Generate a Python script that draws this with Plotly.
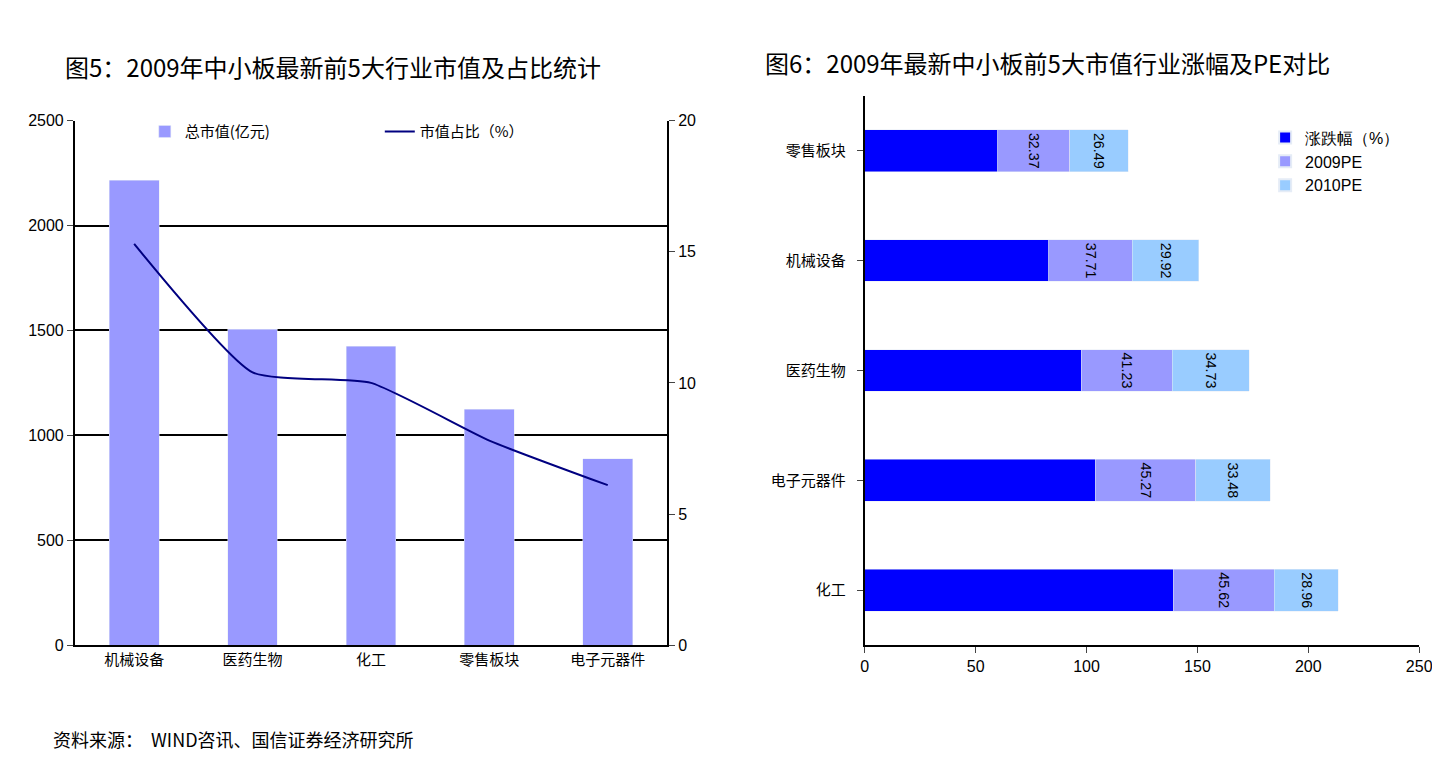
import plotly.graph_objects as go

# left chart
industries_left = ["机械设备", "医药生物", "化工", "零售板块", "电子元器件"]
market_cap = [2215, 1505, 1425, 1125, 888]
cap_share = [15.3, 10.4, 10.0, 7.8, 6.1]

# right chart
industries_right = ["化工", "电子元器件", "医药生物", "机械设备", "零售板块"]
change_pct = [139, 104, 97.5, 83, 60]
pe_2009 = [45.62, 45.27, 41.23, 37.71, 32.37]
pe_2010 = [28.96, 33.48, 34.73, 29.92, 26.49]

CJK = "Noto Sans CJK SC"
NUM = "Liberation Sans"

fig = go.Figure()

fig.add_trace(go.Bar(x=industries_left, y=market_cap, name="总市值(亿元)",
                     marker_color="#9999FF", width=0.42, xaxis="x", yaxis="y",
                     legend="legend", legendrank=1))
fig.add_trace(go.Scatter(x=industries_left, y=cap_share, name="市值占比（%）",
                         mode="lines",
                         line=dict(color="#000080", width=2, shape="spline", smoothing=0.5),
                         xaxis="x", yaxis="y2", legend="legend", legendrank=2))

for vals, name, col, show_text in [(change_pct, "涨跌幅（%）", "#0000FF", False),
                                   (pe_2009, "2009PE", "#9999FF", True),
                                   (pe_2010, "2010PE", "#99CCFF", True)]:
    fig.add_trace(go.Bar(y=industries_right, x=vals, name=name, orientation="h",
                         marker_color=col, width=0.38, xaxis="x3", yaxis="y3",
                         legend="legend2",
                         text=[f"{v:.2f}" for v in vals] if show_text else None,
                         textposition="inside", insidetextanchor="middle",
                         textangle=90, textfont=dict(family=NUM, size=18, color="black")))

fig.update_layout(
    width=1440, height=777, margin=dict(l=0, r=0, t=0, b=0),
    plot_bgcolor="white", paper_bgcolor="white", barmode="stack", bargap=0.5,
    font=dict(family=CJK, size=15, color="black"),
    xaxis=dict(domain=[0.0465, 0.4576], anchor="y", showline=True, linecolor="black",
               linewidth=2, ticks="", automargin=False,
               tickfont=dict(family=CJK, size=15)),
    yaxis=dict(domain=[0.18, 0.855], range=[0, 2500], dtick=500, showgrid=True,
               gridcolor="black", gridwidth=1.5, showline=True, linecolor="black",
               linewidth=2, ticks="outside", ticklen=6, automargin=False,
               tickfont=dict(family=NUM, size=16), zeroline=False),
    yaxis2=dict(overlaying="y", side="right", anchor="x", range=[0, 20], dtick=5,
                showgrid=False, showline=True, linecolor="black", linewidth=2,
                ticks="outside", ticklen=6, automargin=False,
                tickfont=dict(family=NUM, size=16), zeroline=False),
    xaxis3=dict(domain=[0.595, 0.98], anchor="y3", range=[0, 250], dtick=50,
                showgrid=False, showline=True, linecolor="black", linewidth=2,
                ticks="outside", ticklen=6, automargin=False,
                tickfont=dict(family=NUM, size=16), zeroline=False),
    yaxis3=dict(domain=[0.18, 0.887], anchor="x3", showline=True, linecolor="black",
                linewidth=2, ticks="outside", ticklen=6, ticklabelstandoff=8,
                automargin=False, tickfont=dict(family=CJK, size=15)),
    legend=dict(orientation="h", x=0.095, y=0.862, xanchor="left", yanchor="top",
                bgcolor="rgba(0,0,0,0)", font=dict(family=CJK, size=15),
                entrywidth=190, traceorder="normal"),
    legend2=dict(x=0.873, y=0.855, xanchor="left", yanchor="top",
                 bgcolor="rgba(0,0,0,0)", font=dict(family=NUM, size=16),
                 traceorder="normal", itemsizing="constant"),
    annotations=[
        dict(text="图5：2009年中小板最新前5大行业市值及占比统计", x=0.038, y=0.95,
             xref="paper", yref="paper", xanchor="left", showarrow=False,
             font=dict(size=24)),
        dict(text="图6：2009年最新中小板前5大市值行业涨幅及PE对比", x=0.524, y=0.955,
             xref="paper", yref="paper", xanchor="left", showarrow=False,
             font=dict(size=24)),
        dict(text="资料来源：  WIND咨讯、国信证券经济研究所", x=0.03, y=0.04,
             xref="paper", yref="paper", xanchor="left", showarrow=False,
             font=dict(size=18)),
    ],
)

fig.write_html("out.html")
